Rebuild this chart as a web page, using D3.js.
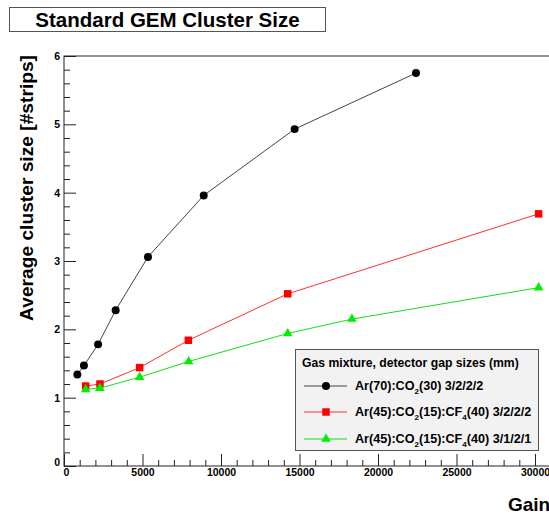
<!DOCTYPE html>
<html><head><meta charset="utf-8">
<script src="https://cdn.jsdelivr.net/npm/d3@7"></script>
<style>
body{margin:0;background:#fff;}
svg{display:block;font-family:"Liberation Sans",Arial,sans-serif;}
</style></head>
<body>
<script>
const titleText = "Standard GEM Cluster Size";
const xLabel = "Gain";
const yLabel = "Average cluster size [#strips]";
const legendTitle = "Gas mixture, detector gap sizes (mm)";

const blackX = [850, 1270, 2170, 3290, 5350, 8900, 14690, 22420];
const blackY = [1.34, 1.47, 1.78, 2.28, 3.06, 3.96, 4.93, 5.75];
const redX = [1380, 2290, 4820, 7920, 14250, 30230];
const redY = [1.17, 1.20, 1.44, 1.84, 2.52, 3.69];
const greenX = [1380, 2290, 4820, 7940, 14250, 18340, 30230];
const greenY = [1.12, 1.14, 1.30, 1.53, 1.94, 2.15, 2.61];

const xMajorTicks = [0, 5000, 10000, 15000, 20000, 25000, 30000];
const yMajorTicks = [0, 1, 2, 3, 4, 5, 6];

const series = [
  {x: blackX, y: blackY, color: "#000000", line: "#444444", marker: "circle",
   parts: [["Ar(70):CO", ""], ["2", "sub"], ["(30) 3/2/2/2", ""]]},
  {x: redX, y: redY, color: "#ff0000", line: "#ff3030", marker: "square",
   parts: [["Ar(45):CO", ""], ["2", "sub"], ["(15):CF", ""], ["4", "sub"], ["(40) 3/2/2/2", ""]]},
  {x: greenX, y: greenY, color: "#00ee00", line: "#10e010", marker: "triangle",
   parts: [["Ar(45):CO", ""], ["2", "sub"], ["(15):CF", ""], ["4", "sub"], ["(40) 3/1/2/1", ""]]}
];

const W = 549, H = 514;
const pLeft = 64, pBottom = 466, pTop = 56, pRight = 560;
const svg = d3.select("body").append("svg").attr("width", W).attr("height", H);

const x = d3.scaleLinear().domain([0, 30000]).range([pLeft, 535]);
const y = d3.scaleLinear().domain([0, 6]).range([pBottom, pTop]);

// frame
svg.append("rect").attr("x", pLeft).attr("y", pTop).attr("width", pRight - pLeft).attr("height", pBottom - pTop)
  .attr("fill", "none").attr("stroke", "#222").attr("stroke-width", 1);

// minor ticks
const xMinor = d3.range(0, 31001, 1000).filter(v => v % 5000 !== 0);
const yMinor = d3.range(0, 6.01, 0.2).map(v => +v.toFixed(1)).filter(v => Math.abs(v - Math.round(v)) > 1e-6);

const gx = svg.append("g").attr("transform", `translate(0,${pBottom})`);
gx.call(d3.axisBottom(x).tickValues(xMajorTicks).tickSize(-12).tickPadding(3).tickFormat(d3.format("d")));
gx.append("g").call(d3.axisBottom(x).tickValues(xMinor).tickSize(-6).tickFormat(""));
const gy = svg.append("g").attr("transform", `translate(${pLeft},0)`);
gy.call(d3.axisLeft(y).tickValues(yMajorTicks).tickSize(-12).tickPadding(4).tickFormat(d3.format("d")));
gy.append("g").call(d3.axisLeft(y).tickValues(yMinor).tickSize(-6).tickFormat(""));
svg.selectAll(".domain").remove();
svg.selectAll(".tick line").attr("stroke", "#222");
svg.selectAll(".tick text").attr("font-size", "10.5px").attr("font-weight", "bold").attr("fill", "#000")
  .attr("font-family", "'Liberation Sans',Arial,sans-serif");
gx.selectAll(".tick text").filter(d => d === 0).attr("dx", "2px");
gy.selectAll(".tick text").filter(d => d === 0).attr("dy", "-0.05em");

function markerPath(type) {
  if (type === "circle") return d3.symbol(d3.symbolCircle, 50)();
  if (type === "square") return d3.symbol(d3.symbolSquare, 56)();
  return d3.symbol(d3.symbolTriangle, 40)();
}
function drawMarkers(g, pts, s) {
  g.selectAll(null).data(pts).enter().append("path")
    .attr("d", markerPath(s.marker))
    .attr("transform", d => `translate(${d[0]},${d[1]})`)
    .attr("fill", s.color);
}

// series
series.forEach(s => {
  const pts = s.x.map((v, i) => [x(v), y(s.y[i])]);
  svg.append("path").attr("d", d3.line()(pts)).attr("fill", "none").attr("stroke", s.line).attr("stroke-width", 1);
  drawMarkers(svg, pts, s);
});

// title box
svg.append("rect").attr("x", 9.5).attr("y", 7.5).attr("width", 316).attr("height", 24)
  .attr("fill", "#fff").attr("stroke", "#555").attr("stroke-width", 1);
svg.append("text").attr("x", 167.5).attr("y", 27).attr("text-anchor", "middle")
  .attr("font-size", "20.5px").attr("font-weight", "bold").text(titleText);

// axis labels
svg.append("text").attr("transform", `translate(33,${pTop - 1}) rotate(-90)`).attr("text-anchor", "end")
  .attr("font-size", "19.2px").attr("font-weight", "bold").text(yLabel);
svg.append("text").attr("x", 508).attr("y", 511).attr("font-size", "19px").attr("font-weight", "bold").text(xLabel);

// legend
const lg = svg.append("g");
lg.append("rect").attr("x", 295.5).attr("y", 349.5).attr("width", 243).attr("height", 101)
  .attr("fill", "#f2f2f2").attr("stroke", "#555").attr("stroke-width", 1);
lg.append("text").attr("x", 302).attr("y", 367).attr("font-size", "12.2px").attr("font-weight", "bold").text(legendTitle);
const rowY = [386, 412, 439];
series.forEach((s, i) => {
  const ry = rowY[i];
  lg.append("line").attr("x1", 304).attr("x2", 347).attr("y1", ry).attr("y2", ry)
    .attr("stroke", s.line).attr("stroke-width", 1);
  drawMarkers(lg, [[326, ry]], s);
  const t = lg.append("text").attr("x", 355).attr("y", ry + 4).attr("font-size", "12.6px").attr("font-weight", "bold");
  s.parts.forEach((p, j) => {
    if (p[1] === "sub") t.append("tspan").attr("font-size", "8px").attr("dy", "4").text(p[0]);
    else {
      const ts = t.append("tspan").text(p[0]);
      if (j > 0) ts.attr("dy", "-4");
    }
  });
});
</script>
</body></html>
